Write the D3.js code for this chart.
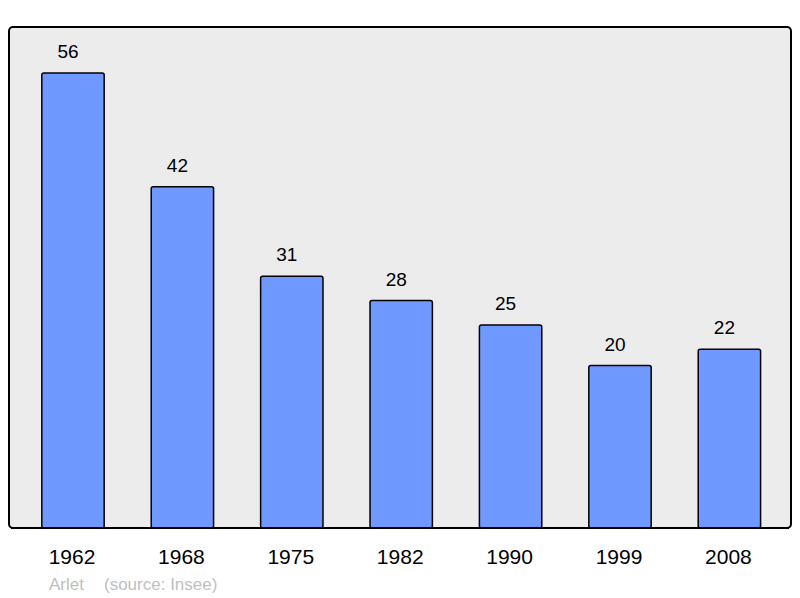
<!DOCTYPE html>
<html>
<head>
<meta charset="utf-8">
<script src="https://cdn.jsdelivr.net/npm/d3@7"></script>
<style>
  body { margin: 0; background: #fff; }
  text { font-family: "Liberation Sans", Arial, sans-serif; }
</style>
</head>
<body>
<svg id="chart" width="800" height="598"></svg>
<script>
const years = ["1962", "1968", "1975", "1982", "1990", "1999", "2008"];
const population = [56, 42, 31, 28, 25, 20, 22];
const footer = ["Arlet", "(source: Insee)"];

const svg = d3.select("#chart");
const frame = { left: 9, top: 27, right: 791, bottom: 528 };

svg
  .append("rect")
  .attr("x", frame.left)
  .attr("y", frame.top)
  .attr("width", frame.right - frame.left)
  .attr("height", frame.bottom - frame.top)
  .attr("rx", 4)
  .attr("fill", "#ececec")
  .attr("stroke", "#000")
  .attr("stroke-width", 2);

const x = d3
  .scaleBand()
  .domain(years)
  .range([18.3, 784.1])
  .paddingInner(0.43)
  .paddingOuter(0.215);

const y = d3
  .scaleLinear()
  .domain([0, 56])
  .range([frame.bottom, 73]);

const data = years.map((year, i) => ({ year, value: population[i] }));

svg
  .selectAll("rect.bar")
  .data(data)
  .enter()
  .append("rect")
  .attr("class", "bar")
  .attr("x", d => x(d.year))
  .attr("y", d => y(d.value))
  .attr("width", x.bandwidth())
  .attr("height", d => y(0) - y(d.value))
  .attr("rx", 2)
  .attr("fill", "#7099ff")
  .attr("stroke", "#000")
  .attr("stroke-width", 1.5);

// bottom frame line drawn again over the bar ends
svg
  .append("line")
  .attr("x1", frame.left + 2)
  .attr("x2", frame.right - 2)
  .attr("y1", frame.bottom)
  .attr("y2", frame.bottom)
  .attr("stroke", "#000")
  .attr("stroke-width", 2);

svg
  .selectAll("text.value")
  .data(data)
  .enter()
  .append("text")
  .attr("class", "value")
  .attr("x", d => x(d.year) + x.bandwidth() / 2 - 5)
  .attr("y", d => y(d.value) - 15)
  .attr("text-anchor", "middle")
  .attr("font-size", 19)
  .attr("fill", "#000")
  .text(d => d.value);

const xAxis = d3.axisBottom(x).tickSize(0).tickPadding(0);
const axisG = svg
  .append("g")
  .attr("transform", `translate(0, ${frame.bottom})`)
  .call(xAxis);
axisG.select(".domain").remove();
axisG
  .selectAll(".tick text")
  .attr("x", -1)
  .attr("y", 36)
  .attr("dy", 0)
  .attr("font-size", 21)
  .attr("font-family", "Liberation Sans, Arial, sans-serif")
  .attr("fill", "#000");

svg
  .append("text")
  .attr("x", 49)
  .attr("y", 590)
  .attr("font-size", 17)
  .attr("fill", "#c0c0c0")
  .text(footer[0]);

svg
  .append("text")
  .attr("x", 104)
  .attr("y", 590)
  .attr("font-size", 17)
  .attr("fill", "#c0c0c0")
  .text(footer[1]);
</script>
</body>
</html>
